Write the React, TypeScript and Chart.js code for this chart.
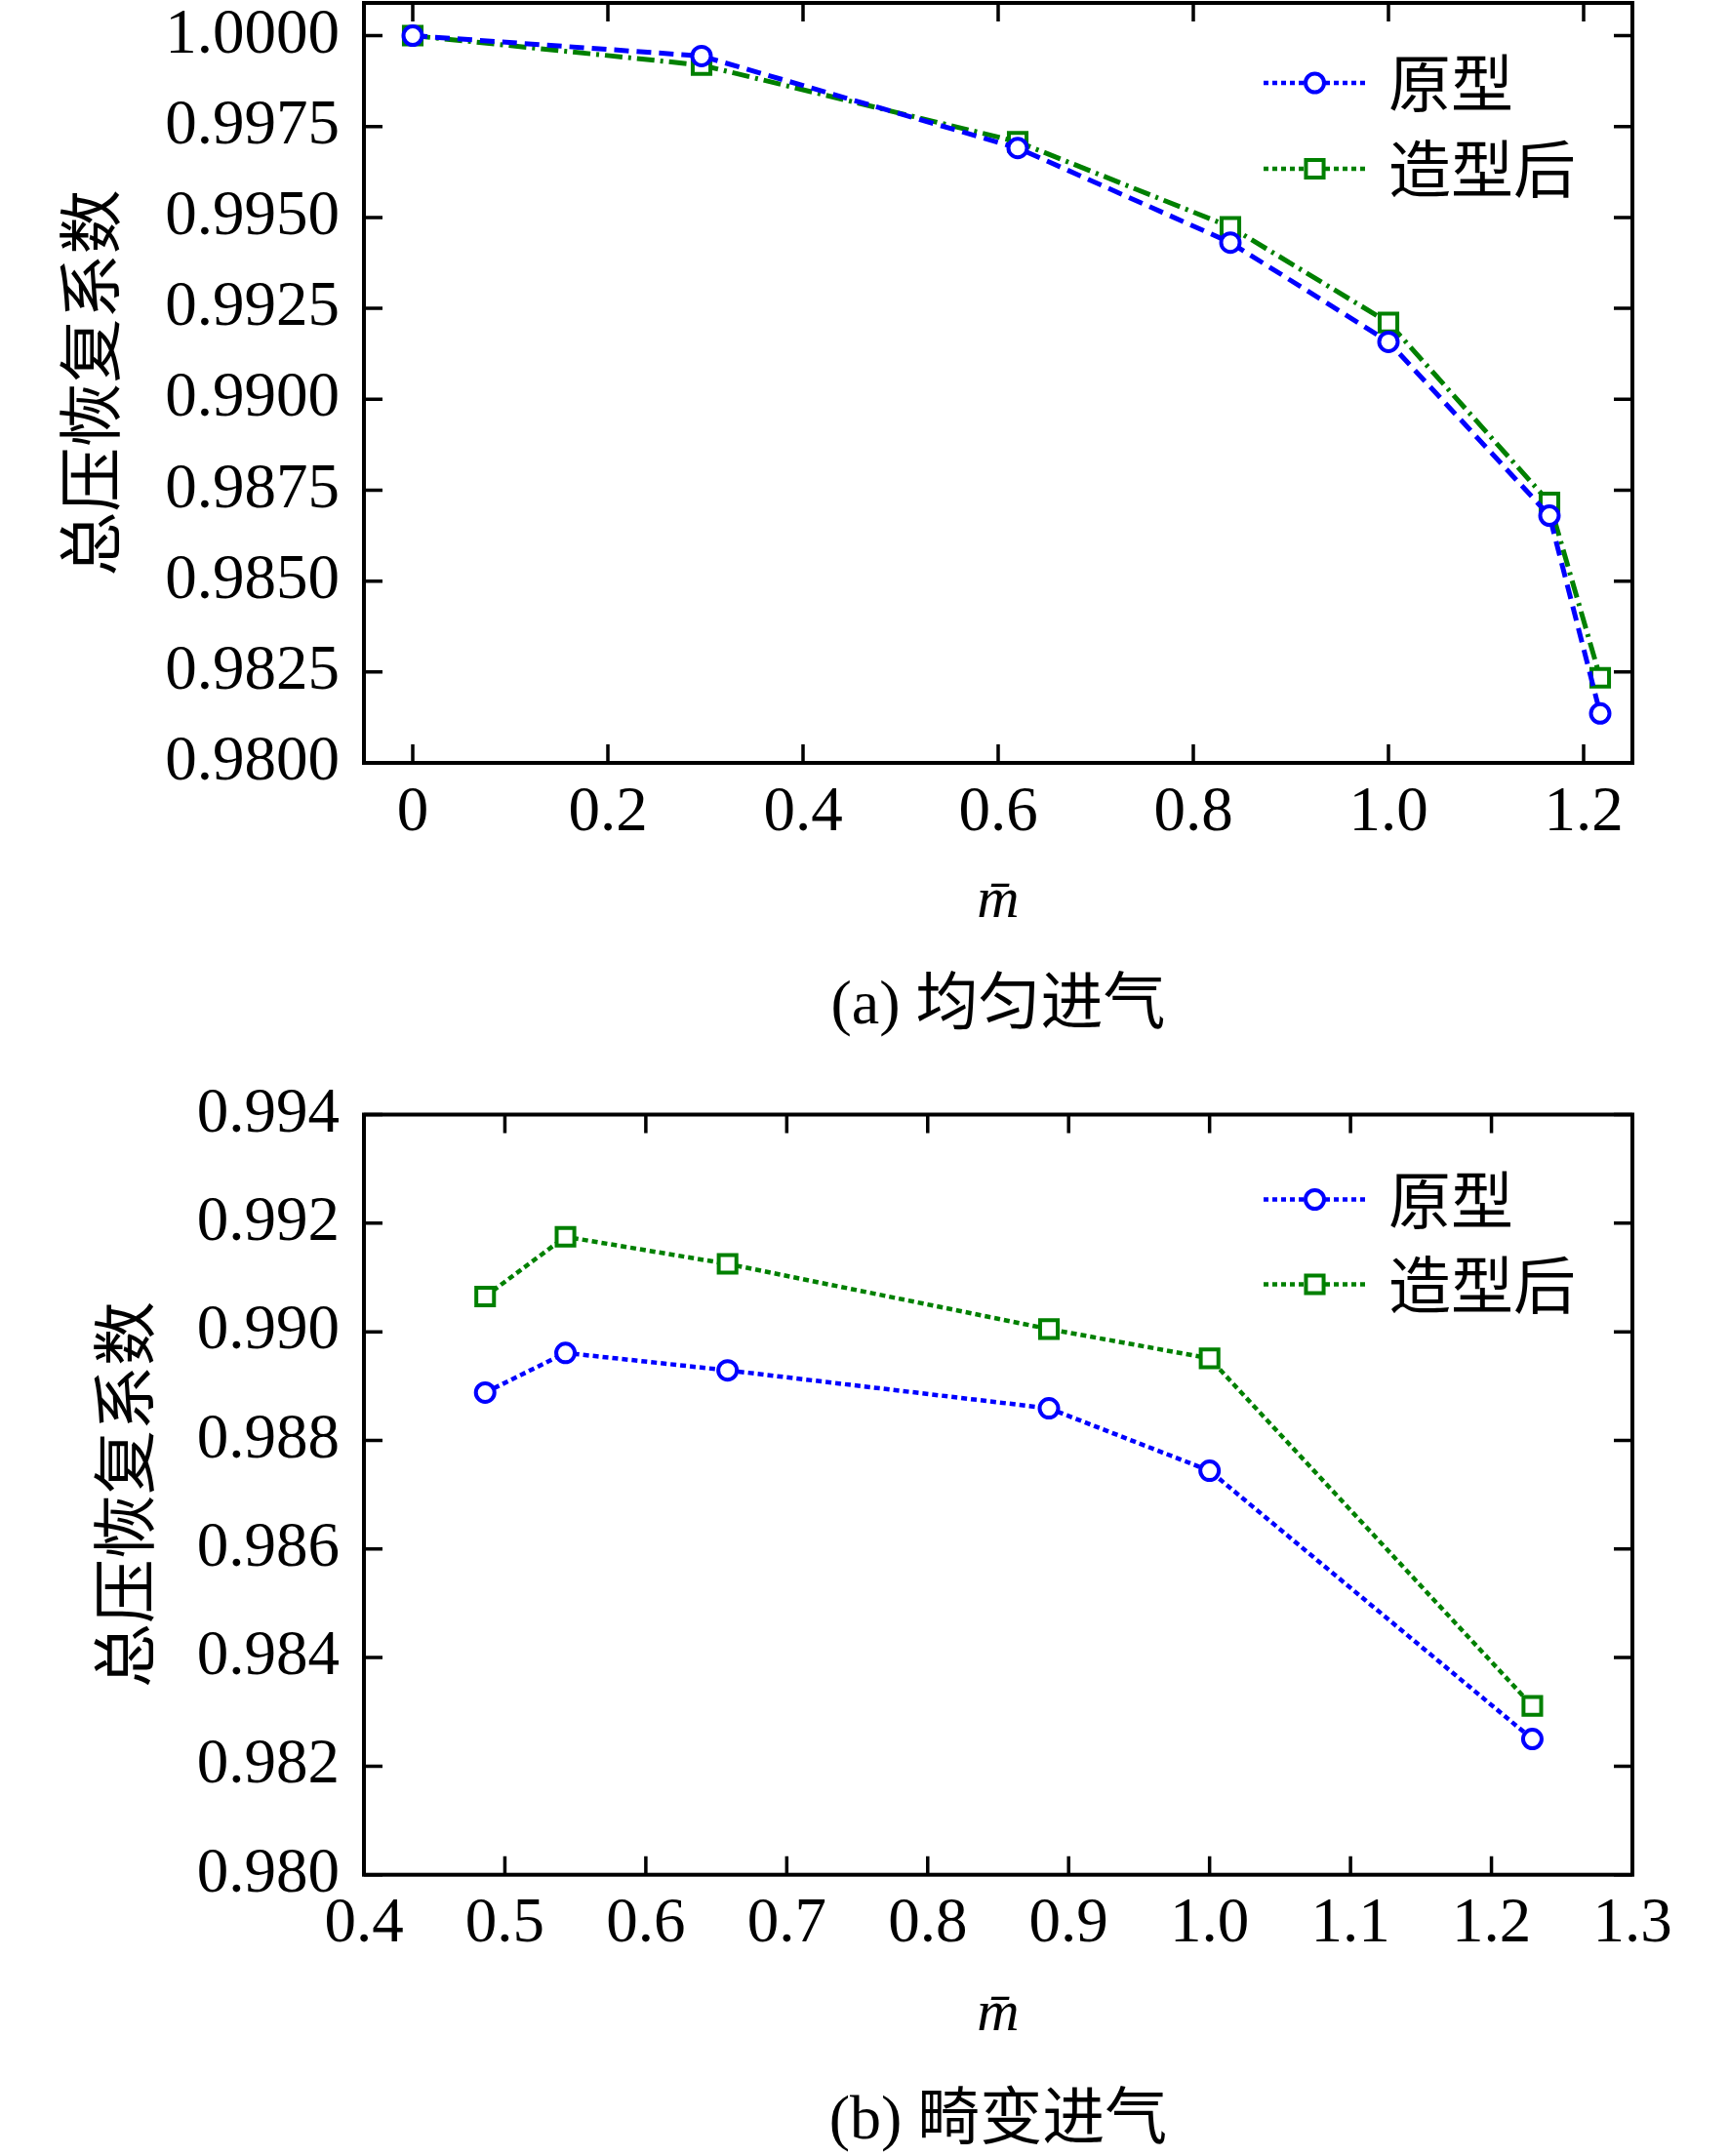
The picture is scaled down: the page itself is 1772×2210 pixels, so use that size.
import React, { useEffect, useRef } from 'react';
import { Chart, registerables } from 'chart.js';

Chart.register(...registerables);

// ---------- data ----------
const seriesNames = ['原型', '造型后'];
const yAxisTitle = '总压恢复系数';
const xAxisTitle = 'm\u0304';
const captions = ['(a) 均匀进气', '(b) 畸变进气'];

// (a) uniform inflow
const uniformM = [0, 0.296, 0.62, 0.838, 1.0, 1.165, 1.217];
const uniformOriginal = [1.0, 0.99944, 0.99691, 0.99431, 0.99158, 0.9868, 0.98136];
const uniformShaped = [1.0, 0.99919, 0.99708, 0.99474, 0.99211, 0.98716, 0.98234];
const uniformXTicks = [0, 0.2, 0.4, 0.6, 0.8, 1.0, 1.2];
const uniformXLabels = ['0', '0.2', '0.4', '0.6', '0.8', '1.0', '1.2'];
const uniformYTicks = [0.98, 0.9825, 0.985, 0.9875, 0.99, 0.9925, 0.995, 0.9975, 1.0];
const uniformYLabels = ['0.9800', '0.9825', '0.9850', '0.9875', '0.9900', '0.9925', '0.9950', '0.9975', '1.0000'];

// (b) distorted inflow
const distortedM = [0.486, 0.543, 0.658, 0.886, 1.0, 1.229];
const distortedOriginal = [0.98888, 0.98961, 0.98929, 0.98859, 0.98744, 0.9825];
const distortedShaped = [0.99065, 0.99175, 0.99125, 0.99005, 0.98951, 0.98311];
const distortedXTicks = [0.4, 0.5, 0.6, 0.7, 0.8, 0.9, 1.0, 1.1, 1.2, 1.3];
const distortedXLabels = ['0.4', '0.5', '0.6', '0.7', '0.8', '0.9', '1.0', '1.1', '1.2', '1.3'];
const distortedYTicks = [0.98, 0.982, 0.984, 0.986, 0.988, 0.99, 0.992, 0.994];
const distortedYLabels = ['0.980', '0.982', '0.984', '0.986', '0.988', '0.990', '0.992', '0.994'];

// ---------- style ----------
const BLUE = '#0000ff';
const GREEN = '#008000';
const SERIF = "'Liberation Serif', 'Times New Roman', serif";
const CJK = "'Noto Sans CJK SC', 'Noto Sans', sans-serif";
const MIXED = "'Liberation Serif', 'Noto Sans CJK SC', serif";

const frameTicksPlugin = {
  id: 'frameTicks',
  afterDraw(chart: any, _args: any, opts: any) {
    const { ctx, chartArea: a } = chart;
    const xs = chart.scales.x;
    const ys = chart.scales.y;
    const L = opts.tickLength;
    ctx.save();
    ctx.strokeStyle = '#000';
    ctx.setLineDash([]);
    ctx.lineWidth = opts.tickWidth;
    ctx.beginPath();
    xs.ticks.forEach((t: any) => {
      const px = xs.getPixelForValue(t.value);
      ctx.moveTo(px, a.bottom);
      ctx.lineTo(px, a.bottom - L);
      ctx.moveTo(px, a.top);
      ctx.lineTo(px, a.top + L);
    });
    ys.ticks.forEach((t: any) => {
      const py = ys.getPixelForValue(t.value);
      ctx.moveTo(a.left, py);
      ctx.lineTo(a.left + L, py);
      ctx.moveTo(a.right, py);
      ctx.lineTo(a.right - L, py);
    });
    ctx.stroke();
    ctx.lineWidth = opts.frameWidth;
    ctx.strokeRect(a.left, a.top, a.right - a.left, a.bottom - a.top);
    ctx.restore();
  },
};

const lineLegendPlugin = {
  id: 'lineLegend',
  afterDraw(chart: any, _args: any, opts: any) {
    const { ctx, chartArea: a } = chart;
    chart.data.datasets.forEach((ds: any, i: number) => {
      const y = a.top + opts.rows[i];
      const x0 = a.right - opts.lineStart;
      const x1 = x0 + opts.lineLength;
      ctx.save();
      ctx.strokeStyle = ds.borderColor;
      ctx.lineWidth = opts.lineWidth;
      ctx.setLineDash(opts.dash);
      ctx.beginPath();
      ctx.moveTo(x0, y);
      ctx.lineTo(x1, y);
      ctx.stroke();
      ctx.setLineDash([]);
      const cx = (x0 + x1) / 2;
      ctx.lineWidth = ds.pointBorderWidth;
      ctx.fillStyle = '#fff';
      ctx.beginPath();
      if (ds.pointStyle === 'rect') {
        const s = ds.pointRadius * Math.SQRT1_2;
        ctx.rect(cx - s, y - s, 2 * s, 2 * s);
      } else {
        ctx.arc(cx, y, ds.pointRadius, 0, Math.PI * 2);
      }
      ctx.fill();
      ctx.stroke();
      ctx.fillStyle = '#000';
      ctx.font = opts.font;
      ctx.textAlign = 'left';
      ctx.textBaseline = 'middle';
      ctx.fillText(ds.label, x1 + opts.textGap, y);
      ctx.restore();
    });
  },
};

function zeroPad(s: any) {
  s.paddingTop = 0;
  s.paddingBottom = 0;
  s.paddingLeft = 0;
  s.paddingRight = 0;
}

type Cfg = {
  xs: number[];
  a: number[];
  b: number[];
  xMin: number;
  xMax: number;
  yMin: number;
  yMax: number;
  xTicks: number[];
  xLabels: string[];
  yTicks: number[];
  yLabels: string[];
  dashA: number[];
  dashB: number[];
  lineWidth: number;
  topPad: number;
  xHeight: number;
  xTitlePad: number;
  yTitlePad: number;
  legendRows: number[];
};

function makeConfig(c: Cfg): any {
  return {
    type: 'line',
    data: {
      datasets: [
        {
          label: seriesNames[0],
          data: c.xs.map((x, i) => ({ x, y: c.a[i] })),
          borderColor: BLUE,
          backgroundColor: '#fff',
          borderWidth: c.lineWidth,
          borderDash: c.dashA,
          pointStyle: 'circle',
          pointRadius: 9.5,
          pointBorderWidth: 4,
          pointBackgroundColor: '#fff',
          pointBorderColor: BLUE,
          tension: 0,
          clip: false,
        },
        {
          label: seriesNames[1],
          data: c.xs.map((x, i) => ({ x, y: c.b[i] })),
          borderColor: GREEN,
          backgroundColor: '#fff',
          borderWidth: c.lineWidth,
          borderDash: c.dashB,
          pointStyle: 'rect',
          pointRadius: 12.8,
          pointBorderWidth: 4,
          pointBackgroundColor: '#fff',
          pointBorderColor: GREEN,
          tension: 0,
          clip: false,
        },
      ],
    },
    options: {
      animation: false,
      responsive: false,
      devicePixelRatio: 1,
      events: [],
      layout: { autoPadding: false, padding: { left: 0, top: c.topPad, right: 99, bottom: 0 } },
      plugins: {
        legend: { display: false },
        tooltip: { enabled: false },
        title: { display: false },
        frameTicks: { tickLength: 19, tickWidth: 3.5, frameWidth: 4 },
        lineLegend: {
          rows: c.legendRows,
          lineStart: 378,
          lineLength: 105,
          lineWidth: 4.5,
          dash: [5, 4],
          textGap: 23,
          font: `64px ${CJK}`,
        },
      },
      scales: {
        x: {
          type: 'linear',
          min: c.xMin,
          max: c.xMax,
          afterBuildTicks: (s: any) => {
            s.ticks = c.xTicks.map((v) => ({ value: v }));
          },
          afterFit: (s: any) => {
            s.height = c.xHeight;
            zeroPad(s);
          },
          grid: { display: false, drawTicks: false },
          border: { display: false },
          ticks: {
            padding: 19,
            autoSkip: false,
            maxRotation: 0,
            minRotation: 0,
            color: '#000',
            font: { family: SERIF, size: 65, lineHeight: 1 },
            callback: (_v: any, i: number) => c.xLabels[i],
          },
          title: {
            display: true,
            text: xAxisTitle,
            color: '#000',
            font: { family: SERIF, size: 60, style: 'italic', lineHeight: 1 },
            padding: { top: 0, bottom: c.xTitlePad },
          },
        },
        y: {
          type: 'linear',
          min: c.yMin,
          max: c.yMax,
          afterBuildTicks: (s: any) => {
            s.ticks = c.yTicks.map((v) => ({ value: v }));
          },
          afterFit: (s: any) => {
            s.width = 373;
            zeroPad(s);
          },
          grid: { display: false, drawTicks: false },
          border: { display: false },
          ticks: {
            padding: 25,
            autoSkip: false,
            color: '#000',
            font: { family: SERIF, size: 65, lineHeight: 1 },
            callback: (_v: any, i: number) => c.yLabels[i],
          },
          title: {
            display: true,
            text: yAxisTitle,
            color: '#000',
            font: { family: CJK, size: 66, lineHeight: 1 },
            padding: { top: c.yTitlePad, bottom: 0 },
          },
        },
      },
    },
    plugins: [frameTicksPlugin, lineLegendPlugin],
  };
}

const topCfg: Cfg = {
  xs: uniformM,
  a: uniformOriginal,
  b: uniformShaped,
  xMin: -0.05,
  xMax: 1.25,
  yMin: 0.98,
  yMax: 1.0009,
  xTicks: uniformXTicks,
  xLabels: uniformXLabels,
  yTicks: uniformYTicks,
  yLabels: uniformYLabels,
  dashA: [15, 8],
  dashB: [18, 6, 3, 6],
  lineWidth: 5,
  topPad: 3,
  xHeight: 318,
  xTitlePad: 146,
  yTitlePad: 59,
  legendRows: [82, 170],
};

const bottomCfg: Cfg = {
  xs: distortedM,
  a: distortedOriginal,
  b: distortedShaped,
  xMin: 0.4,
  xMax: 1.3,
  yMin: 0.98,
  yMax: 0.994,
  xTicks: distortedXTicks,
  xLabels: distortedXLabels,
  yTicks: distortedYTicks,
  yLabels: distortedYLabels,
  dashA: [6, 4],
  dashB: [6, 4],
  lineWidth: 4.5,
  topPad: 42.5,
  xHeight: 288.3,
  xTitlePad: 115,
  yTitlePad: 94,
  legendRows: [87, 174],
};

function ChartCanvas({ cfg, top, height }: { cfg: Cfg; top: number; height: number }) {
  const ref = useRef<HTMLCanvasElement | null>(null);
  useEffect(() => {
    if (!ref.current) return;
    const chart = new Chart(ref.current, makeConfig(cfg));
    return () => chart.destroy();
  }, [cfg]);
  return (
    <canvas
      ref={ref}
      width={1772}
      height={height}
      style={{ position: 'absolute', left: 0, top, width: 1772, height }}
    />
  );
}

const captionStyle = (top: number): React.CSSProperties => ({
  position: 'absolute',
  left: 373,
  width: 1300,
  top,
  textAlign: 'center',
  fontFamily: MIXED,
  fontSize: 64,
  lineHeight: '64px',
  whiteSpace: 'nowrap',
  color: '#000',
});

export default function App() {
  useEffect(() => {
    document.body.style.margin = '0';
    document.body.style.overflow = 'hidden';
    document.body.style.background = '#fff';
  }, []);
  return (
    <div style={{ position: 'relative', width: 1772, height: 2210, background: '#fff', overflow: 'hidden' }}>
      <ChartCanvas cfg={topCfg} top={0} height={1100} />
      <ChartCanvas cfg={bottomCfg} top={1100} height={1110} />
      <div style={captionStyle(996)}>{captions[0]}</div>
      <div style={captionStyle(2139)}>{captions[1]}</div>
    </div>
  );
}
